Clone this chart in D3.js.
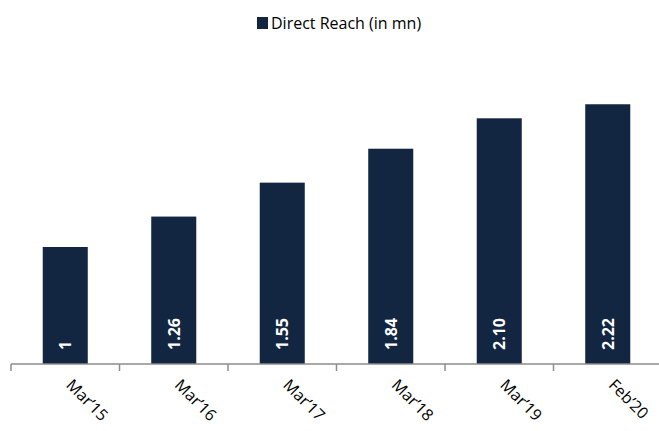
<!DOCTYPE html>
<html>
<head>
<meta charset="utf-8">
<script src="https://cdn.jsdelivr.net/npm/d3@7"></script>
<style>
  body { margin: 0; background: #fff; }
  text { font-family: "Open Sans", "Liberation Sans", sans-serif; }
</style>
</head>
<body>
<div id="chart"></div>
<script>
// Data
const categories = ["Mar\u201915", "Mar\u201916", "Mar\u201917", "Mar\u201918", "Mar\u201919", "Feb\u201920"];
const values = [1, 1.26, 1.55, 1.84, 2.10, 2.22];
const valueLabels = ["1", "1.26", "1.55", "1.84", "2.10", "2.22"];
const seriesName = "Direct Reach (in mn)";

const width = 659, height = 431;
const barColor = "#132641";

const svg = d3.select("#chart").append("svg")
  .attr("width", width)
  .attr("height", height);

// Scales
const x = d3.scaleBand()
  .domain(categories)
  .range([11, 662])
  .paddingInner(0.585)
  .paddingOuter(0.2925);

const y = d3.scaleLinear()
  .domain([0, 2.5])
  .range([364, 71.5]);

// Bars
svg.append("g")
  .selectAll("rect")
  .data(values)
  .enter()
  .append("rect")
  .attr("x", (d, i) => x(categories[i]))
  .attr("y", d => y(d))
  .attr("width", x.bandwidth())
  .attr("height", d => y(0) - y(d))
  .attr("fill", barColor);

// Value labels inside bars
svg.append("g")
  .selectAll("text")
  .data(values)
  .enter()
  .append("text")
  .attr("transform", (d, i) => `translate(${x(categories[i]) + x.bandwidth() / 2 + 6},${y(0) - 14}) rotate(-90)`)
  .attr("fill", "#fff")
  .style("font-weight", "bold")
  .style("font-size", "16px")
  .text((d, i) => valueLabels[i]);

// X axis
const step = x.step();
const axisG = svg.append("g");
axisG.append("line")
  .attr("x1", 11).attr("x2", 662)
  .attr("y1", y(0)).attr("y2", y(0))
  .attr("stroke", "#8c8c8c")
  .attr("stroke-width", 1.5);

axisG.selectAll(".tick")
  .data(d3.range(categories.length + 1))
  .enter()
  .append("line")
  .attr("x1", i => 11 + i * step)
  .attr("x2", i => 11 + i * step)
  .attr("y1", y(0))
  .attr("y2", y(0) + 7)
  .attr("stroke", "#8c8c8c")
  .attr("stroke-width", 1.5);

axisG.selectAll(".cat")
  .data(categories)
  .enter()
  .append("text")
  .attr("transform", d => `translate(${x(d) + x.bandwidth() / 2},${y(0) + 22}) rotate(45)`)
  .style("font-size", "16px")
  .attr("fill", "#000")
  .text(d => d);

// Legend
const legend = svg.append("g");
legend.append("rect")
  .attr("x", 257).attr("y", 17)
  .attr("width", 11).attr("height", 12)
  .attr("fill", barColor);
legend.append("text")
  .attr("x", 271).attr("y", 29)
  .style("font-size", "16px")
  .attr("fill", "#000")
  .text(seriesName);
</script>
</body>
</html>
